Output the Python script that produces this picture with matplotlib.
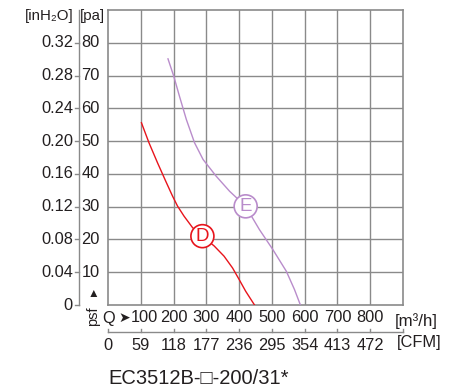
import matplotlib
matplotlib.use("Agg")
import matplotlib.pyplot as plt
from matplotlib.lines import Line2D

plt.rcParams['font.family'] = ['Liberation Sans', 'DejaVu Sans']

# ---- data ----
flow_ticks = [100, 200, 300, 400, 500, 600, 700, 800]
cfm_labels = ["0", "59", "118", "177", "236", "295", "354", "413", "472"]
pa_ticks = [10, 20, 30, 40, 50, 60, 70, 80]
inh2o_labels = ["0", "0.04", "0.08", "0.12", "0.16", "0.20", "0.24", "0.28", "0.32"]

d_q = [102, 125, 151, 176, 197, 212, 232, 258, 288, 324, 354, 380, 400, 420, 447]
d_p = [55.6, 49.5, 43.4, 37.8, 33.2, 30.2, 27.1, 23.6, 21.0, 18.0, 14.9, 11.3, 7.8, 4.2, 0]
e_q = [183, 200, 218, 239, 264, 290, 330, 371, 420, 462, 503, 544, 569, 587]
e_p = [75.1, 70.0, 63.7, 56.6, 49.5, 44.4, 39.3, 34.7, 30.1, 23.0, 16.9, 10.3, 4.7, 0]

W, H = 467, 391
fig = plt.figure(figsize=(W / 100, H / 100), dpi=100)

def fx(x):
    return x / W

def fy(y):
    return 1 - y / H

L, R, T, B = 108, 403, 10, 305
ax = fig.add_axes([fx(L), fy(B), (R - L) / W, (B - T) / H])
ax.set_xlim(0, 900)
ax.set_ylim(0, 90)
gcol = "#8a8a8a"
for v in range(100, 900, 100):
    ax.axvline(v, color=gcol, lw=1.0, zorder=1)
for v in range(10, 90, 10):
    ax.axhline(v, color=gcol, lw=1.0, zorder=1)
for s in ax.spines.values():
    s.set_color(gcol)
    s.set_linewidth(1.2)
ax.set_xticks([])
ax.set_yticks([])

red = "#e8141c"
purple = "#b98ccb"
ax.plot(d_q, d_p, color=red, lw=1.0, zorder=3, solid_joinstyle="round")
ax.plot(e_q, e_p, color=purple, lw=1.0, zorder=3, solid_joinstyle="round")
ax.text(288, 21.0, "D", color=red, fontsize=13.5, ha="center", va="center", zorder=5,
        bbox=dict(boxstyle="circle,pad=0.16", fc="white", ec=red, lw=1.2))
ax.text(420, 30.1, "E", color=purple, fontsize=13.5, ha="center", va="center", zorder=5,
        bbox=dict(boxstyle="circle,pad=0.16", fc="white", ec=purple, lw=1.2))

tc = "#231f20"
fs = 11.8

def ypx(p):
    return B - p / 90 * (B - T)

def xpx(q):
    return L + q / 900 * (R - L)

# left inH2O axis line + ticks
fig.add_artist(Line2D([fx(79), fx(79)], [fy(B), fy(T)], color=gcol, lw=1.0))
for i, lab in enumerate(inh2o_labels):
    p = i * 10
    y = ypx(p)
    fig.add_artist(Line2D([fx(75), fx(79)], [fy(y), fy(y)], color=gcol, lw=1.0))
    fig.text(fx(73), fy(y), lab, ha="right", va="center", fontsize=fs, color=tc)
for p in pa_ticks:
    fig.text(fx(81.5), fy(ypx(p)), str(p), ha="left", va="center", fontsize=fs, color=tc)

fig.text(fx(73.5), fy(16), "[inH\u2082O]", ha="right", va="center", fontsize=10.8, color=tc)
fig.text(fx(80), fy(16), "[pa]", ha="left", va="center", fontsize=10.8, color=tc)

# bottom flow labels
for q in flow_ticks:
    xoff = 4 if q == 100 else 0
    fig.text(fx(xpx(q) + xoff), fy(318), str(q), ha="center", va="center", fontsize=fs, color=tc)
fig.text(fx(102.5), fy(318), "Q", ha="left", va="center", fontsize=fs, color=tc)
fig.text(fx(118.5), fy(318), "\u27a4", ha="left", va="center", fontsize=10, color=tc)
fig.text(fx(93), fy(316), "psf", ha="center", va="center", fontsize=10.5, rotation=90, color=tc)
fig.text(fx(93.5), fy(294), "\u25b2", ha="center", va="center", fontsize=8.5, color=tc)
fig.text(fx(395), fy(321), "[m\u00b3/h]", ha="left", va="center", fontsize=12.2, color=tc)

# CFM axis
yc = 331.5
fig.add_artist(Line2D([fx(L), fx(R)], [fy(yc), fy(yc)], color=gcol, lw=1.0))
for i in range(10):
    x = xpx(i * 100)
    fig.add_artist(Line2D([fx(x), fx(x)], [fy(yc), fy(yc - 3)], color=gcol, lw=1.0))
for i, lab in enumerate(cfm_labels):
    fig.text(fx(xpx(i * 100)), fy(346), lab, ha="center", va="center", fontsize=fs, color=tc)
fig.text(fx(397), fy(343), "[CFM]", ha="left", va="center", fontsize=fs, color=tc)

fig.text(fx(198.5), fy(379), "EC3512B-\u25a1-200/31*", ha="center", va="center",
         fontsize=14.5, color=tc)

fig.savefig("out.png", dpi=100)
